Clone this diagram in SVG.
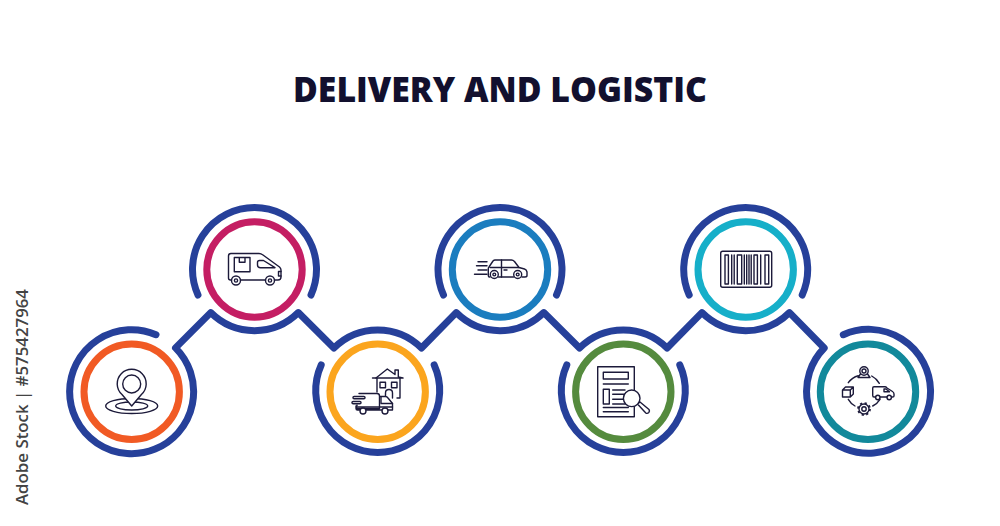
<svg xmlns="http://www.w3.org/2000/svg" width="1000" height="526" viewBox="0 0 1000 526">
<style>
.o{fill:none;stroke:#26409A;stroke-width:7;stroke-linecap:round;stroke-linejoin:round}
.r{fill:#fff;stroke-width:7}
.i{fill:none;stroke:#1C1A3A;stroke-width:1.4;stroke-linecap:round;stroke-linejoin:round}
.w{fill:#fff}
.t{font-family:"Open Sans","Liberation Sans",sans-serif;font-weight:800;font-size:35px;fill:#12102E}
.s{font-family:"Open Sans","Liberation Sans",sans-serif;font-size:17px;font-weight:600;fill:#444}
</style>
<rect width="1000" height="526" fill="#fff"/>
<text class="t" x="293" y="102" textLength="414" lengthAdjust="spacingAndGlyphs">DELIVERY AND LOGISTIC</text>
<text class="s" transform="translate(28,505) rotate(-90)" textLength="216" lengthAdjust="spacingAndGlyphs">Adobe Stock | #575427964</text>
<g id="connectors">
<path class="o" d="M156,334.7A62 62 0 1 0 175.5,347.9L210.7,312.6A62 62 0 0 0 298.3,312.6L333.9,348A62 62 0 0 1 421.5,348L456.2,312.6A62 62 0 0 0 543.8,312.6L579.5,348A62 62 0 0 1 667.1,348L701.9,312.6A62 62 0 0 0 789.5,312.6L824.2,348A62 62 0 1 0 843.3,334.7"/>
</g>
<g id="node-1">
<circle class="r" cx="131.7" cy="391.7" r="47.7" stroke="#F15A24"/>
<ellipse class="i" cx="131.7" cy="406" rx="26" ry="7.5"/>
<ellipse class="i" cx="131.7" cy="406" rx="16" ry="4"/>
<path class="i w" d="M131.7,406L122,394.5A14.5 14.5 0 1 1 141.4,394.5Z"/>
<circle class="i" cx="131.7" cy="384" r="9"/>
</g>
<g id="node-2">
<path class="o" d="M198,295A62 62 0 1 1 311,295"/>
<circle class="r" cx="254.5" cy="269.5" r="47.7" stroke="#C41E63"/>
<path class="i" d="M231.5,280H230.5Q228.5,280 228.5,278V256Q228.5,253.5 231,253.5H259Q261,253.5 263,255L279.5,267Q281,268.5 281,270V277Q281,280 278,280H274.5M265.5,280H240.5"/>
<circle class="i" cx="236" cy="280.5" r="4.5"/>
<circle class="i" cx="270" cy="280.5" r="4.5"/>
<circle class="i" cx="236" cy="280.5" r="1.6"/>
<circle class="i" cx="270" cy="280.5" r="1.6"/>
<path class="i" d="M234.3,257.5H250V271.7H234.3ZM239.3,257.5V262.3H245V257.5"/>
<path class="i" d="M259.5,260.5H263.5L275,267.7H260.5Q257.5,267.7 257.5,265V262.5Q257.5,260.5 259.5,260.5Z"/>
<path class="i" d="M281,271.5H278.5V276H281"/>
</g>
<g id="node-3">
<path class="o" d="M321.2,365A62 62 0 1 0 434.2,365"/>
<circle class="r" cx="377.7" cy="391.7" r="47.7" stroke="#FBA51E"/>
<path class="i" d="M372.5,378H376L387.3,369L395,374.5V370H398.3V377L403,378H400V398H397"/>
<path class="i" d="M377,378V392M376,378H400"/>
<rect class="i" x="380" y="382.3" width="5.5" height="5.4"/>
<rect class="i" x="391.5" y="382.3" width="5.5" height="5.4"/>
<path class="i" d="M385.5,398V393Q385.5,389.5 389,389.5Q392.5,389.5 392.5,393V398"/>
<path class="i w" d="M359,393.5H377Q379.5,393.5 379.5,396V408.5H357V405M379.5,396.5H385.5Q387,396.5 388,398L392.5,403.5V410H357.5Q356,410 356,408.5V406"/>
<path class="i" d="M381,397V403.5H392.5M358,407H392.5"/>
<circle class="i w" cx="363" cy="411" r="3"/>
<circle class="i w" cx="385" cy="411" r="3"/>
<rect class="i w" x="353" y="396.5" width="12" height="2.3" rx="1.1"/>
<rect class="i w" x="352" y="401.5" width="9" height="2.3" rx="1.1"/>
</g>
<g id="node-4">
<path class="o" d="M443.5,295A62 62 0 1 1 556.5,295"/>
<circle class="r" cx="500" cy="269.5" r="47.7" stroke="#1B7DBF"/>
<path class="i" d="M490,277H489.5Q488.3,277 488.3,275.5V268.5Q488.3,267.5 489.3,266.5L493,261Q494,260 495,260H511.5Q513,260 514.5,261.5L519,267.5L524.5,269Q526.5,269.5 527,272V275.5Q527,277 525,277H522M513.5,277H498.5"/>
<path class="i" d="M490,267.5H519M501.5,260V277M504,270H507"/>
<circle class="i" cx="494.3" cy="274.5" r="4"/>
<circle class="i" cx="517.7" cy="274.5" r="4"/>
<circle class="i" cx="494.3" cy="274.5" r="1.4"/>
<circle class="i" cx="517.7" cy="274.5" r="1.4"/>
<path class="i" d="M478,261.7H487M476.5,265.7H487M478,270H487M474.5,274.3H487"/>
</g>
<g id="node-5">
<path class="o" d="M566.8,365A62 62 0 1 0 679.8,365"/>
<circle class="r" cx="623.3" cy="391.7" r="47.7" stroke="#558B3E"/>
<rect class="i" x="597.7" y="366.7" width="36.6" height="50"/>
<rect class="i" x="603.3" y="372.3" width="25" height="6.7"/>
<rect class="i" x="603.3" y="389.3" width="6" height="14.7"/>
<path class="i" d="M603.3,384H628.3M612.7,390H625M612.7,394.3H625M612.7,399.3H625M612.7,404H625M603.3,407.5H628.3M603.3,411.7H628.3"/>
<path class="i w" d="M637.5,404L640,402L649,409.5Q650,411 648.8,412.5Q647.3,414 645.8,413Z"/>
<circle class="i w" cx="631.7" cy="398.3" r="8.3"/>
</g>
<g id="node-6">
<path class="o" d="M689.2,295A62 62 0 1 1 802.2,295"/>
<circle class="r" cx="745.7" cy="269.5" r="47.7" stroke="#16AFC9"/>
<rect class="i" x="720.7" y="251.3" width="51" height="36" rx="2"/>
<path class="i" d="M725,255V284H728.4V255ZM737.3,255V284H741.7V255ZM754,255V284H757.4V255ZM765,255V284H768.7V255ZM731.7,255V284M734.2,255V284M744.3,255V284M746.7,255V284M749,255V284M751.2,255V284M760.7,255V284"/>
</g>
<g id="node-7">
<circle class="r" cx="868" cy="391.7" r="47.7" stroke="#12899B"/>
<circle class="i" cx="864" cy="371" r="4.2"/>
<circle class="i" cx="864" cy="371" r="2"/>
<path class="i" d="M860.5,374L858,377.5H870L867.5,374"/>
<path class="i" d="M848.3,382.7A18 18 0 0 1 858.3,375.7M871.7,376A18 18 0 0 1 879.3,383.3M848.3,399.3A18 18 0 0 0 855,406M872.7,406A18 18 0 0 0 880,399.3"/>
<path class="i" d="M842.5,390L845.5,387H853.3V394L850.3,397H842.5ZM842.5,390H850.3V397M850.3,390L853.3,387"/>
<path class="i" d="M875.5,397H874Q872.7,397 872.7,395.5V388Q872.7,386.8 874,386.8H885Q886,386.8 887,388L892.5,391.5Q894,392.5 894,394V396Q894,397 892.5,397H891.5M887,397H880"/>
<path class="i" d="M884,389H886L889.5,391.8H884Z"/>
<circle class="i" cx="877.8" cy="397.5" r="2.2"/>
<circle class="i" cx="889.2" cy="397.5" r="2.2"/>
<circle class="i" cx="864" cy="409" r="5"/>
<circle class="i" cx="864" cy="409" r="2.2"/>
<circle cx="864" cy="409" r="6" fill="none" stroke="#1C1A3A" stroke-width="1.8" stroke-dasharray="2.2 2.5"/>
</g>
</svg>
